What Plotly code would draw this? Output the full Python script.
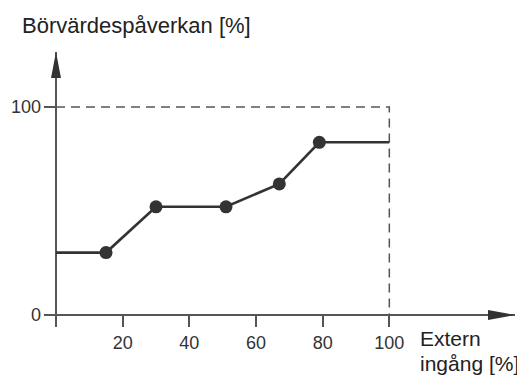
import plotly.graph_objects as go

# Data
x_vals = [0, 15, 30, 51, 67, 79, 100]
y_vals = [30, 30, 52, 52, 63, 83, 83]
marker_sizes = [0, 13, 13, 13, 13, 13, 0]
ref_x = [0, 100, 100]
ref_y = [100, 100, 0]
x_ticks = [20, 40, 60, 80, 100]
y_ticks = [0, 100]
y_title = "Börvärdespåverkan [%]"
x_title_lines = ["Extern", "ingång [%]"]

FONT = "Liberation Sans, Arial, sans-serif"
DARK = "#333333"
AXIS = "#555555"

# page body has an 8px margin, so the figure is drawn 8px smaller and shifted
W, H = 517, 368
L, R, T, B = 36, 10, 44, 49
PW, PH = W - L - R, H - T - B

fig = go.Figure()
fig.add_trace(go.Scatter(x=ref_x, y=ref_y, mode="lines",
                         line=dict(color=AXIS, width=1.5, dash="9px,6px"),
                         hoverinfo="skip", showlegend=False))
fig.add_trace(go.Scatter(x=x_vals, y=y_vals, mode="lines+markers",
                         line=dict(color=DARK, width=2.6),
                         marker=dict(size=marker_sizes, color=DARK, opacity=1,
                                     line=dict(width=0)),
                         showlegend=False))

x_range = [-3.6, 137.7]
y_range = [-5.77, 126.4]

# axis arrowheads
fig.add_shape(type="path", xref="x", yref="y", xsizemode="pixel", ysizemode="pixel",
              xanchor=0, yanchor=y_range[1], path="M0,0 L-5,-26 L5,-26 Z",
              fillcolor=DARK, line=dict(width=0))
fig.add_shape(type="path", xref="x", yref="y", xsizemode="pixel", ysizemode="pixel",
              xanchor=x_range[1], yanchor=0, path="M0,0 L-27,5 L-27,-5 Z",
              fillcolor=DARK, line=dict(width=0))

for line_text, cy in zip(x_title_lines, [330, 355]):
    fig.add_annotation(text=line_text, xref="paper", yref="paper", x=(410 - L) / PW,
                       y=(319 - cy) / PH, xanchor="left", yanchor="middle", align="left",
                       showarrow=False, font=dict(family=FONT, size=21, color="#222222"))

fig.update_layout(
    width=W, height=H,
    margin=dict(l=L, r=R, t=T, b=B, autoexpand=False),
    paper_bgcolor="white", plot_bgcolor="white",
    title=dict(text=y_title, x=14 / W, xanchor="left", xref="container",
               y=1 - 17 / H, yanchor="middle", yref="container",
               font=dict(family=FONT, size=22, color="#222222")),
    xaxis=dict(range=x_range, showgrid=False, showline=False, zeroline=True,
               zerolinecolor=AXIS, zerolinewidth=1.5, automargin=False,
               tickmode="array", tickvals=x_ticks, ticks="inside", ticklen=12,
               tickwidth=1.5, tickcolor=AXIS, ticklabelstandoff=3,
               tickfont=dict(family=FONT, size=18, color=DARK)),
    yaxis=dict(range=y_range, showgrid=False, showline=False, zeroline=True,
               zerolinecolor=AXIS, zerolinewidth=1.5, automargin=False,
               tickmode="array", tickvals=y_ticks, ticks="inside", ticklen=12,
               tickwidth=1.5, tickcolor=AXIS, ticklabelstandoff=2,
               tickfont=dict(family=FONT, size=18, color=DARK)),
)

fig.write_html("out.html")
